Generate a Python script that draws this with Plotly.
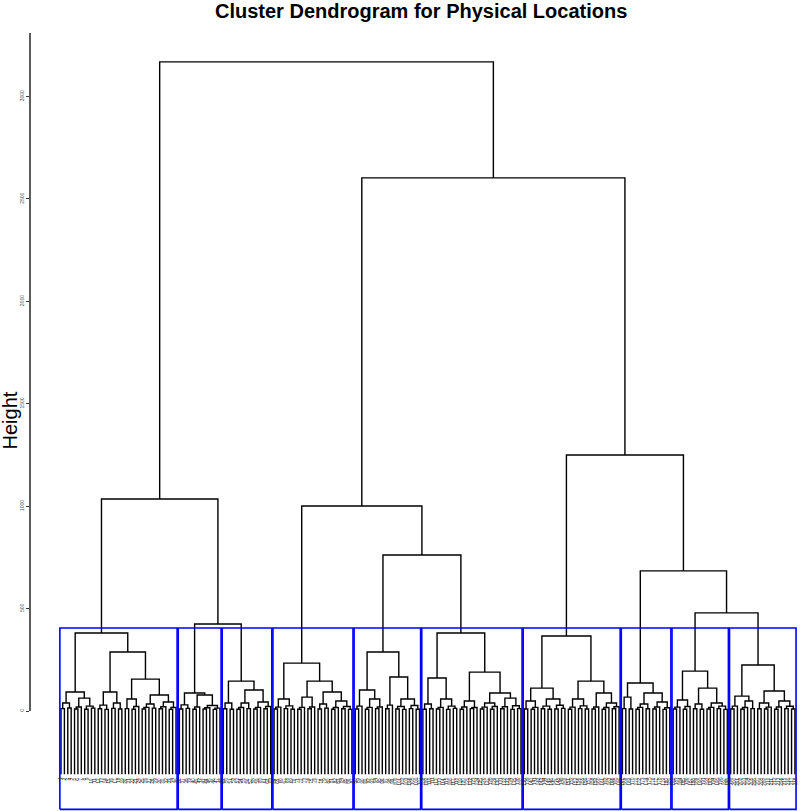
import plotly.graph_objects as go

# ---------------- data ----------------
title_text = "Cluster Dendrogram for Physical Locations"
y_title = "Height"
tick_values = [0, 500, 1000, 1500, 2000, 2500, 3000]
tick_labels = ["0", "500", "1000", "1500", "2000", "2500", "3000"]

# sub-trees of the 10 clusters: "(A,B)h" with "." = one location, h = merge height
cluster_trees = [
    # 1 (35 leaves)
    "((((.,.)12,(.,.)15)39,(((.,.)10,.)20,((.,.)9,(.,.)14)24)63)93,"
    "((((.,.)11,(.,.)8)29,((.,.)13,(.,.)10)39)93,"
    "(((.,.)12,((.,.)9,.)22)59,((((.,.)10,.)18,(.,.)14)34,(((.,.)11,.)21,((.,.)8,.)17)44)78)156)288)381",
    # 2 (13)
    "(((.,.)10,(.,.)13)30,(((.,.)9,.)20,(((.,.)10,.)16,((.,.)8,.)14)27)78)88",
    # 3 (15)
    "(((.,.)11,(.,.)9)39,((((.,.)9,.)17,(.,.)12)39,(((.,.)10,.)18,((.,.)11,.)22)44)103)146",
    # 4 (24)
    "((((.,.)10,.)19,((.,.)12,(.,.)9)25)59,"
    "((((.,.)9,.)18,((.,.)11,.)20)68,(((.,.)10,(.,.)14)34,(((.,.)9,.)17,((.,.)11,(.,.)8)22)49)93)146)234",
    # 5 (20)
    "((((.,.)10,.)24,(((.,.)9,.)18,((.,.)12,.)20)59)103,"
    "(((.,.)11,.)29,(((.,.)10,(.,.)8)22,((.,.)12,(.,.)9)27)59)166)288",
    # 6 (30)
    "((((.,.)9,(.,.)11)34,(((.,.)10,.)18,((.,.)8,(.,.)13)24)59)161,"
    "((((.,.)9,.)20,((.,.)12,.)17)49,((((.,.)10,.)19,((.,.)9,.)22)39,(((.,.)11,.)21,((.,.)8,(.,.)12)26)63)88)190)381",
    # 7 (29)
    "((((.,.)10,((.,.)9,.)18)49,(((.,.)11,(.,.)9)24,((.,.)10,(.,.)13)28)59)112,"
    "((((.,.)9,.)19,((.,.)12,(.,.)10)25)59,(((.,.)10,.)20,(((.,.)9,.)17,((.,.)11,.)21)39)88)146)366",
    # 8 (15)
    "(((.,.)12,(.,.)10)68,((((.,.)9,.)18,(.,.)11)34,(((.,.)10,.)20,((.,.)8,.)16)44)88)137",
    # 9 (17)
    "(((((.,.)10,.)19,((.,.)9,.)22)54),((((.,.)11,(.,.)9)34),(((.,.)10,.)18,((.,.)12,(.,.)8)24)39)112)195",
    # 10 (20)
    "((((.,.)10,.)24,(((.,.)9,.)17,(.,.)12)49)73,(((.,.)11,((.,.)10,.)19)39,(((.,.)9,.)20,((.,.)12,(.,.)10)23)49)98)225",
]

# upper merges joining the clusters
top_tree = "(({0},({1},{2})425)1035,(({3},({4},{5})762)1001,({6},({7},({8},{9})479)684)1250)2603)3169"

cut_height = 405        # height of the cluster rectangles
leaf_bottom = -308      # where the leaf branches end
rect_bottom = -480
axis_top = 3310

n_leaves = 218
leaf_labels = [str(i) for i in range(1, n_leaves + 1)]


# ---------------- tree parsing ----------------
def parse(s, i):
    if s[i] == ".":
        return ("leaf",), i + 1
    assert s[i] == "("
    i += 1
    left, i = parse(s, i)
    if s[i] == ")":
        return left, i + 1
    assert s[i] == ","
    right, i = parse(s, i + 1)
    assert s[i] == ")"
    i += 1
    j = i
    while j < len(s) and s[j].isdigit():
        j += 1
    h = float(s[i:j])
    return ("node", h, left, right), j


full = top_tree.format(*cluster_trees).replace(" ", "")
tree, _ = parse(full, 0)

seg_x, seg_y = [], []
counter = [0]
leaf_pos = []


def layout_tree(node):
    if node[0] == "leaf":
        counter[0] += 1
        leaf_pos.append(counter[0])
        return counter[0], leaf_bottom
    _, h, l, r = node
    xl, hl = layout_tree(l)
    xr, hr = layout_tree(r)
    seg_x.extend([xl, xl, xr, xr, None])
    seg_y.extend([hl, h, h, hr, None])
    return (xl + xr) / 2.0, h


layout_tree(tree)

# cluster rectangles
cluster_sizes = [c.count(".") for c in cluster_trees]
rx, ry = [], []
start = 1
for size in cluster_sizes:
    end = start + size - 1
    x0, x1 = start - 0.34, end + 0.33
    rx.extend([x0, x1, x1, x0, x0, None])
    ry.extend([rect_bottom, rect_bottom, cut_height, cut_height, rect_bottom, None])
    start = end + 1

# ---------------- figure ----------------
fig = go.Figure()
fig.add_trace(go.Scatter(x=seg_x, y=seg_y, mode="lines",
                         line=dict(color="black", width=1.4), hoverinfo="skip",
                         showlegend=False))
fig.add_trace(go.Scatter(x=rx, y=ry, mode="lines",
                         line=dict(color="#0000FF", width=1.6), hoverinfo="skip",
                         showlegend=False))

annotations = []
for pos, lab in zip(leaf_pos, leaf_labels):
    annotations.append(dict(x=pos, y=leaf_bottom - 6, xref="x", yref="y", text=lab,
                            showarrow=False, textangle=-90, yanchor="top", xanchor="center",
                            font=dict(size=4.5, color="#222222", family="Liberation Sans")))

W, H = 800, 811
L, T = 30, 33
annotations.append(dict(x=(421 - L) / (W - L), y=1 + (T - 11) / (H - T), xref="paper", yref="paper",
                        text="<b>" + title_text + "</b>", showarrow=False,
                        xanchor="center", yanchor="middle",
                        font=dict(size=20, color="black", family="Liberation Sans")))
annotations.append(dict(x=(9.5 - L) / (W - L), y=(H - 421) / (H - T), xref="paper", yref="paper",
                        text=y_title, showarrow=False, textangle=-90,
                        xanchor="center", yanchor="middle",
                        font=dict(size=20, color="black", family="Liberation Sans")))

fig.update_layout(
    width=W, height=H,
    margin=dict(l=L, r=0, t=T, b=0, pad=0),
    plot_bgcolor="white", paper_bgcolor="white",
    showlegend=False,
    annotations=annotations,
    shapes=[dict(type="line", xref="paper", yref="y", x0=0, x1=0, y0=0, y1=axis_top,
                 line=dict(color="#333333", width=1.6))],
    xaxis=dict(visible=False, range=[-8.17, 219.5], fixedrange=True),
    yaxis=dict(range=[-488, 3310], showgrid=False, zeroline=False, showline=False,
               ticks="outside", ticklen=3, tickwidth=1.2, tickcolor="#333333",
               tickvals=tick_values, ticktext=tick_labels, tickangle=-90,
               tickfont=dict(size=5, color="#4D4D4D", family="Liberation Sans"),
               automargin=False, fixedrange=True),
)

fig.write_html("out.html",
               config={"displayModeBar": False},
               post_script="document.body.style.margin='0px';"
                           "document.body.style.overflow='hidden';"
                           "document.documentElement.style.overflow='hidden';")
